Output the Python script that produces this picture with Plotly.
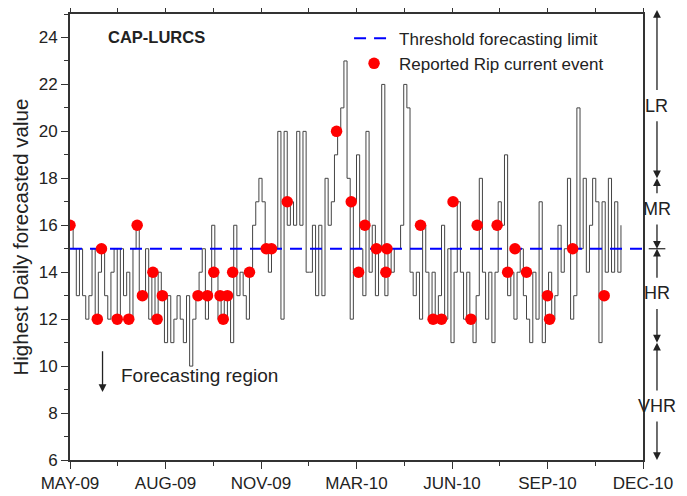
import plotly.graph_objects as go

# ---------------- data ----------------
tick_days = [0, 91, 182, 273, 364, 455, 546]
tick_labels = ["MAY-09", "AUG-09", "NOV-09", "MAR-10", "JUN-10", "SEP-10", "DEC-10"]
minor_days = [45.5, 136.5, 227.5, 318.5, 409.5, 500.5]

# highest daily forecasted value, one reading every 3 days from MAY-09
forecast = [
    16, 15, 13, 15, 13, 12, 13, 15, 12, 14,
    15, 13, 12, 14, 15, 12, 15, 13, 14, 12,
    15, 16, 13, 13, 15, 12, 14, 12, 14, 13,
    11, 13, 11, 12, 13, 12, 11, 13, 10, 12,
    13, 14, 15, 12, 13, 16, 14, 12, 13, 12,
    13, 11, 16, 13, 14, 13, 12, 14, 16, 17,
    18, 17, 15, 14, 15, 15, 20, 12, 20, 16,
    17, 16, 20, 16, 20, 14, 14, 16, 13, 16,
    13, 18, 16, 17, 19, 20, 21, 23, 18, 12,
    17, 19, 15, 13, 20, 14, 16, 13, 15, 22,
    13, 15, 14, 15, 15, 16, 22, 21, 14, 13,
    14, 12, 16, 14, 12, 14, 12, 13, 16, 12,
    15, 11, 14, 17, 14, 12, 14, 12, 11, 13,
    18, 14, 12, 14, 11, 14, 17, 16, 19, 13,
    14, 12, 14, 15, 13, 12, 11, 14, 12, 17,
    11, 13, 14, 12, 13, 16, 14, 15, 18, 12,
    13, 21, 15, 18, 14, 16, 18, 17, 11, 17,
    14, 18, 14, 17, 14, 16,
]
forecast_days = [3 * i for i in range(len(forecast))]

event_days = [0, 26, 30, 45, 56, 64, 69, 79, 83, 88,
              122, 131, 137, 143, 146, 150, 155, 171, 187, 192,
              207, 254, 268, 275, 281, 292, 301, 302, 334, 346,
              354, 365, 382, 388, 407, 417, 424, 435, 455, 457,
              479, 509]
event_values = [16, 12, 15, 12, 12, 16, 13, 14, 12, 13,
                13, 13, 14, 13, 12, 13, 14, 14, 15, 15,
                17, 20, 17, 14, 16, 15, 14, 15, 16, 12,
                12, 17, 12, 16, 16, 14, 15, 14, 13, 12,
                15, 13]

threshold = 15
y_range = [6, 25]

# risk zones (label, lower bound, upper bound, label position)
zones = [("LR", 18, 25.17, 21.1), ("MR", 15, 18, 16.7),
         ("HR", 11, 15, 13.1), ("VHR", 6, 11, 8.3)]

FONT = "Liberation Sans, Arial, sans-serif"
INK = "#222222"

fig = go.Figure()

fig.add_trace(go.Scatter(
    x=forecast_days, y=forecast, mode="lines",
    line=dict(color="#444444", width=1, shape="hv"), showlegend=False,
    hoverinfo="skip"))

fig.add_trace(go.Scatter(
    x=[tick_days[0], tick_days[-1]], y=[threshold, threshold], mode="lines",
    line=dict(color="#0000ff", width=2.2, dash="12px,8px"),
    name="Threshold forecasting limit"))

fig.add_trace(go.Scatter(
    x=event_days, y=event_values, mode="markers",
    marker=dict(color="#ff0000", size=11.5, line=dict(width=0)),
    name="Reported Rip current event"))

# the page body adds an 8px offset, so the figure is sized/margined to compensate
fig.update_layout(
    width=679, height=488,
    margin=dict(l=62, r=44, t=6, b=36),
    paper_bgcolor="white", plot_bgcolor="white",
    font=dict(family=FONT, color=INK),
    legend=dict(x=0.487, y=0.985, xanchor="left", yanchor="top",
                bgcolor="rgba(0,0,0,0)", font=dict(size=17, family=FONT),
                itemwidth=40, tracegroupgap=0),
    xaxis=dict(range=[tick_days[0], tick_days[-1]], tickmode="array",
               tickvals=tick_days, ticktext=tick_labels, automargin=False,
               ticks="outside", ticklen=7, tickwidth=1.3, tickcolor="#333",
               showline=True, linecolor="#333", linewidth=1.8, mirror="ticks",
               showgrid=False, zeroline=False,
               tickfont=dict(size=17, family=FONT),
               minor=dict(tickvals=minor_days, ticks="outside", ticklen=4,
                          tickwidth=1.3, tickcolor="#333", showgrid=False)),
    yaxis=dict(range=y_range, tickmode="array", automargin=False,
               tickvals=[6, 8, 10, 12, 14, 16, 18, 20, 22, 24],
               ticks="outside", ticklen=7, tickwidth=1.3, tickcolor="#333",
               showline=True, linecolor="#333", linewidth=1.8, mirror=True,
               showgrid=False, zeroline=False,
               tickfont=dict(size=17, family=FONT),
               minor=dict(tickvals=[7, 9, 11, 13, 15, 17, 19, 21, 23, 25],
                          ticks="outside", ticklen=4, tickwidth=1.3,
                          tickcolor="#333", showgrid=False)),
)

annotations = [
    dict(x=-0.0881, y=0.5, xref="paper", yref="paper",
         text="Highest Daily forecasted value", textangle=-90,
         showarrow=False, xanchor="center", yanchor="middle",
         font=dict(size=20.5, family=FONT, color=INK)),
    dict(x=34, y=24, xref="x", yref="y", text="<b>CAP-LURCS</b>",
         showarrow=False, xanchor="left", yanchor="middle",
         font=dict(size=16.5, family=FONT, color=INK)),
    dict(x=47, y=9.6, xref="x", yref="y", text="Forecasting region",
         showarrow=False, xanchor="left", yanchor="middle",
         font=dict(size=19, family=FONT, color=INK)),
    dict(x=31, y=8.9, xref="x", yref="y", ax=31, ay=10.7, axref="x", ayref="y",
         text="", showarrow=True, arrowhead=2, arrowsize=1.2, arrowwidth=1.3,
         arrowcolor=INK),
]

xr = 1.0244
for label, lo, hi, mid in zones:
    annotations.append(dict(x=xr, y=mid, xref="paper", yref="y", text=label,
                            xanchor="center", yanchor="middle",
                            showarrow=False, font=dict(size=18, family=FONT, color=INK)))
    annotations.append(dict(x=xr, y=hi, xref="paper", yref="y", ax=0, ay=mid + 0.6,
                            ayref="y", text="", showarrow=True, arrowhead=2,
                            arrowsize=1.2, arrowwidth=1.3, arrowcolor=INK))
    annotations.append(dict(x=xr, y=lo, xref="paper", yref="y", ax=0, ay=mid - 0.6,
                            ayref="y", text="", showarrow=True, arrowhead=2,
                            arrowsize=1.2, arrowwidth=1.3, arrowcolor=INK))

fig.update_layout(annotations=annotations)
fig.add_shape(type="line", xref="paper", yref="y", x0=1.01, x1=1.039,
              y0=threshold, y1=threshold, line=dict(color=INK, width=1.2))

fig.write_html("out.html")
